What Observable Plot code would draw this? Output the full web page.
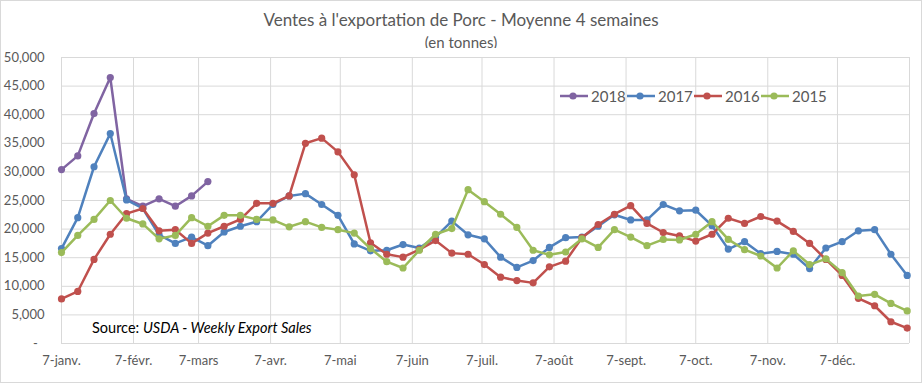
<!DOCTYPE html>
<html>
<head>
<meta charset="utf-8">
<script src="https://cdn.jsdelivr.net/npm/d3@7"></script>
<script src="https://cdn.jsdelivr.net/npm/@observablehq/plot@0.6"></script>
<style>
  body { margin: 0; background: white; }
  #wrap { position: relative; width: 922px; height: 383px; box-sizing: border-box; border: 1px solid #d9d9d9; background: white; font-family: Lato, "Open Sans", sans-serif; overflow: hidden; }
  #title { position: absolute; left: 0; width: 920px; top: 9px; text-align: center; font-size: 17px; line-height: 20px; color: #595959; }
  #subtitle { position: absolute; left: 0; width: 920px; top: 33px; text-align: center; font-size: 15px; line-height: 17px; color: #595959; }
  #chart { position: absolute; left: 0; top: 47px; }
  #legend { position: absolute; left: 559px; top: 87px; display: flex; font-size: 15px; line-height: 16px; color: #595959; }
  #legend .item { display: flex; align-items: center; width: 67px; }
  #legend .item span { margin-left: 3px; }
  #source { position: absolute; left: 91px; top: 318px; font-size: 14.5px; line-height: 18px; color: #000; }
</style>
</head>
<body>
<div id="wrap">
  <div id="title"></div>
  <div id="subtitle"></div>
  <div id="chart"></div>
  <div id="legend"></div>
  <div id="source"></div>
</div>
<script>
// ---- data ----
const titleText = "Ventes à l'exportation de Porc - Moyenne 4 semaines";
const subtitleText = "(en tonnes)";
const years = ["2018", "2017", "2016", "2015"];
const colors = ["#8064A2", "#4F81BD", "#C0504D", "#9BBB59"];
const firstWeek = [2017, 0, 7]; // first weekly point (year is only a carrier)
const s2018 = [30400, 32800, 40200, 46500, 25300, 24000, 25300, 24000, 25800, 28300];
const s2017 = [16600, 22000, 30900, 36700, 25100, 23600, 19000, 17500, 18600, 17100,
               19500, 20500, 21300, 24300, 25800, 26200, 24300, 22400, 17400, 16200,
               16300, 17300, 16700, 18600, 21400, 19000, 18300, 15100, 13300, 14500,
               16800, 18500, 18600, 20500, 22500, 21600, 21600, 24300, 23200, 23300,
               20600, 16500, 17800, 15700, 16100, 15600, 13100, 16700, 17800, 19700,
               19900, 15600, 11900];
const s2016 = [7800, 9100, 14700, 19100, 22700, 23600, 19700, 19900, 17500, 19300,
               20500, 21700, 24500, 24500, 25800, 35000, 35900, 33500, 29500, 17600,
               15600, 15100, 16400, 18000, 15800, 15600, 13800, 11600, 11000, 10600,
               13400, 14400, 18500, 20800, 22600, 24100, 21000, 19400, 18800, 17900,
               19100, 21900, 21000, 22200, 21400, 19600, 17500, 14700, 11900, 7900,
               6600, 3800, 2700];
const s2015 = [15900, 18900, 21700, 25000, 21900, 20900, 18300, 18900, 22000, 20500,
               22400, 22400, 21700, 21600, 20400, 21300, 20300, 19900, 19300, 16600,
               14300, 13200, 16300, 19100, 20100, 26900, 24800, 22600, 20300, 16300,
               15500, 16000, 18300, 16800, 19900, 18600, 17100, 18200, 18100, 19100,
               21300, 18200, 16400, 15300, 13200, 16200, 13800, 14800, 12400, 8300,
               8600, 7000, 5700];
const seriesValues = [s2018, s2017, s2016, s2015];
const xTickLabels = ["7-janv.", "7-févr.", "7-mars", "7-avr.", "7-mai", "7-juin",
                     "7-juil.", "7-août", "7-sept.", "7-oct.", "7-nov.", "7-déc."];
const yTickValues = [0, 5000, 10000, 15000, 20000, 25000, 30000, 35000, 40000, 45000, 50000];
const sourceLabel = "Source: ";
const sourceItalic = "USDA - Weekly Export Sales";

// ---- build ----
const start = new Date(Date.UTC(...firstWeek));
const weekDate = i => d3.utcDay.offset(start, 7 * i);
const monthTicks = d3.range(13).map(m => new Date(Date.UTC(firstWeek[0], m, 7)));
const labelTicks = monthTicks.slice(0, 12);
const labelByTime = new Map(labelTicks.map((d, i) => [+d, xTickLabels[i]]));

const marks = [
  Plot.ruleY(yTickValues, {stroke: "#d9d9d9", strokeWidth: 1}),
  Plot.gridX(monthTicks, {stroke: "#d9d9d9", strokeOpacity: 1, strokeWidth: 1}),
  Plot.axisY({ticks: yTickValues, tickSize: 0, tickPadding: 17, label: null,
    tickFormat: d => d === 0 ? "-\u00a0\u00a0" : d3.format(",")(d), fill: "#595959"}),
  Plot.axisX({ticks: labelTicks, tickSize: 0, tickPadding: 12, label: null,
    tickFormat: d => labelByTime.get(+d), fill: "#595959"})
];
years.forEach((yr, k) => {
  const data = seriesValues[k].map((v, i) => ({date: weekDate(i), value: v}));
  marks.push(Plot.line(data, {x: "date", y: "value", stroke: colors[k], strokeWidth: 2.5}));
  marks.push(Plot.dot(data, {x: "date", y: "value", fill: colors[k], r: 3.6}));
});

const svg = Plot.plot({
  width: 920,
  height: 334,
  marginLeft: 60,
  marginRight: 12,
  marginTop: 9,
  marginBottom: 39,
  style: {fontFamily: "Lato, 'Open Sans', sans-serif", fontSize: "13px", color: "#595959", background: "white", overflow: "visible"},
  x: {type: "utc", domain: [monthTicks[0], monthTicks[12]], label: null},
  y: {domain: [0, 50000], label: null},
  marks
});
document.getElementById("chart").appendChild(svg);

document.getElementById("title").textContent = titleText;
document.getElementById("subtitle").textContent = subtitleText;
const src = document.getElementById("source");
src.append(sourceLabel);
const it = document.createElement("i");
it.textContent = sourceItalic;
src.appendChild(it);

const legend = document.getElementById("legend");
years.forEach((yr, k) => {
  const item = document.createElement("div");
  item.className = "item";
  item.innerHTML = `<svg width="28" height="10"><line x1="0" x2="28" y1="5" y2="5" stroke="${colors[k]}" stroke-width="2.5"/><circle cx="13" cy="5" r="3.6" fill="${colors[k]}"/></svg><span>${yr}</span>`;
  legend.appendChild(item);
});
</script>
</body>
</html>
